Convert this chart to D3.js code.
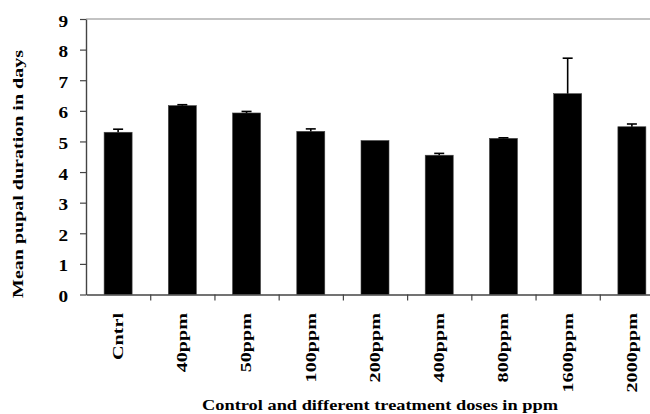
<!DOCTYPE html>
<html>
<head>
<meta charset="utf-8">
<script src="https://cdn.jsdelivr.net/npm/d3@7"></script>
<style>
  body { margin: 0; background: #fff; }
  svg { display: block; font-family: "Liberation Serif", "Times New Roman", serif; font-weight: bold; }
</style>
</head>
<body>
<div id="chart"></div>
<script>
// values
const categories = ["Cntrl", "40ppm", "50ppm", "100ppm", "200ppm", "400ppm", "800ppm", "1600ppm", "2000ppm"];
const means = [5.30, 6.17, 5.93, 5.33, 5.03, 4.55, 5.10, 6.56, 5.48];
const errors = [0.10, 0.03, 0.05, 0.08, 0.0, 0.06, 0.02, 1.16, 0.09];
const yTicks = [0, 1, 2, 3, 4, 5, 6, 7, 8, 9];

const width = 650, height = 414;
const serif = '"Liberation Serif", "Times New Roman", serif';
// the plot runs past the right edge of the picture (it was cropped)
const plotLeft = 86, plotRight = 664, plotTop = 19, plotBottom = 294.5;

const svg = d3.select('#chart').append('svg')
  .attr('width', width)
  .attr('height', height);

const x = d3.scaleBand()
  .domain(categories)
  .range([plotLeft, plotRight])
  .paddingInner(0.564)
  .paddingOuter(0.282);

const xEdges = d3.scaleLinear()
  .domain([0, categories.length])
  .range([plotLeft, plotRight]);

const y = d3.scaleLinear()
  .domain([0, 9])
  .range([plotBottom, plotTop]);

// top frame line
svg.append('line')
  .attr('x1', plotLeft).attr('x2', plotRight)
  .attr('y1', y(9)).attr('y2', y(9))
  .attr('stroke', '#888').attr('stroke-width', 1.2);

// bars
svg.append('g')
  .selectAll('rect')
  .data(categories)
  .join('rect')
  .attr('x', d => x(d))
  .attr('width', x.bandwidth())
  .attr('y', (d, i) => y(means[i]))
  .attr('height', (d, i) => y(0) - y(means[i]))
  .attr('fill', '#000')
  .attr('stroke', '#444')
  .attr('stroke-width', 0.6);

// error bars (upper half only)
const err = svg.append('g')
  .attr('stroke', '#000')
  .attr('stroke-width', 1.6)
  .selectAll('g')
  .data(categories.filter((d, i) => errors[i] > 0))
  .join('g');

err.append('line')
  .attr('x1', d => x(d) + x.bandwidth() / 2)
  .attr('x2', d => x(d) + x.bandwidth() / 2)
  .attr('y1', d => y(means[categories.indexOf(d)]))
  .attr('y2', d => { const i = categories.indexOf(d); return y(means[i] + errors[i]); });

err.append('line')
  .attr('x1', d => x(d) + x.bandwidth() / 2 - 5)
  .attr('x2', d => x(d) + x.bandwidth() / 2 + 5)
  .attr('y1', d => { const i = categories.indexOf(d); return y(means[i] + errors[i]); })
  .attr('y2', d => { const i = categories.indexOf(d); return y(means[i] + errors[i]); });

// y axis
const yAxis = svg.append('g')
  .attr('transform', `translate(${plotLeft},0)`)
  .call(d3.axisLeft(y).tickValues(yTicks).tickSize(6).tickSizeOuter(0).tickFormat(d3.format('d')));
yAxis.select('.domain').attr('stroke', '#444').attr('stroke-width', 1.4);
yAxis.selectAll('.tick line').attr('stroke', '#444').attr('stroke-width', 1.2);
yAxis.selectAll('.tick text')
  .attr('x', null)
  .attr('dy', null)
  .attr('transform', 'translate(-18,7) scale(1.2,1)')
  .attr('font-size', 16)
  .attr('font-family', serif)
  .attr('font-weight', 'bold')
  .attr('fill', '#000');

// x axis (ticks between categories)
const xAxis = svg.append('g')
  .attr('transform', `translate(0,${plotBottom})`)
  .call(d3.axisBottom(xEdges).tickValues(d3.range(1, categories.length)).tickSize(6).tickSizeOuter(0).tickFormat(''));
xAxis.select('.domain').attr('stroke', '#444').attr('stroke-width', 1.4);
xAxis.selectAll('.tick line').attr('stroke', '#444').attr('stroke-width', 1.2);

// category labels, rotated
svg.append('g')
  .selectAll('text')
  .data(categories)
  .join('text')
  .attr('transform', d => `translate(${x(d) + x.bandwidth() / 2},313) rotate(-90) scale(1.44,1)`)
  .attr('text-anchor', 'end')
  .attr('dy', '0.35em')
  .attr('font-size', 14)
  .attr('font-family', serif)
  .attr('font-weight', 'bold')
  .attr('fill', '#000')
  .text(d => d);

// axis titles
svg.append('text')
  .attr('x', 202)
  .attr('y', 410)
  .attr('font-size', 15)
  .attr('font-family', serif)
  .attr('font-weight', 'bold')
  .attr('textLength', 356)
  .attr('lengthAdjust', 'spacingAndGlyphs')
  .attr('fill', '#000')
  .text('Control and different treatment  doses in ppm');

svg.append('text')
  .attr('transform', 'translate(18,174) rotate(-90)')
  .attr('text-anchor', 'middle')
  .attr('dy', '0.35em')
  .attr('font-size', 14.5)
  .attr('font-family', serif)
  .attr('font-weight', 'bold')
  .attr('textLength', 248)
  .attr('lengthAdjust', 'spacingAndGlyphs')
  .attr('fill', '#000')
  .text('Mean pupal duration in days');
</script>
</body>
</html>
